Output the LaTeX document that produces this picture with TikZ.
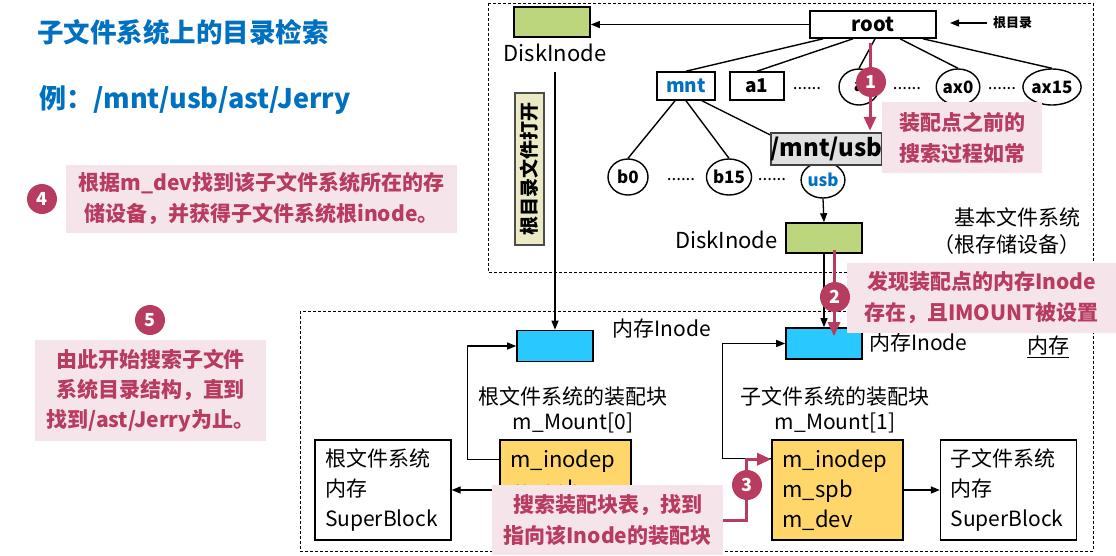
\documentclass[tikz,border=0pt]{standalone}
\usepackage{fontspec}
\setmainfont{Noto Sans CJK SC}
\usetikzlibrary{arrows.meta, positioning, shapes.geometric}
\definecolor{titleblue}{RGB}{0,112,192}
\definecolor{notered}{RGB}{184,59,96}
\definecolor{notepink}{RGB}{246,228,235}
\definecolor{diskgreen}{RGB}{187,214,124}
\definecolor{memblue}{RGB}{41,200,255}
\definecolor{mountyellow}{RGB}{255,214,106}
\definecolor{labelkhaki}{RGB}{236,234,196}
\newcommand{\setfs}[2]{\fontsize{#1}{#2}\selectfont}

\begin{document}
\begin{tikzpicture}[
  x=1pt, y=-1pt,
  every node/.style={align=center, inner sep=0pt},
  >={Triangle[length=9pt, width=7pt]},
  box/.style={draw, line width=1.6pt},
  diskbox/.style={box, fill=diskgreen, minimum width=76, minimum height=30},
  membox/.style={box, fill=memblue, minimum width=76, minimum height=31},
  dirbox/.style={box, font=\setfs{19}{22}\bfseries, minimum height=28},
  dirnode/.style={ellipse, draw, line width=1.4pt, minimum width=40, minimum height=36, font=\setfs{17}{20}\bfseries},
  dots/.style={font=\setfs{17}{20}},
  mountbox/.style={box, fill=mountyellow, minimum width=131, minimum height=100, text width=110, align=left, font=\setfs{22}{30}},
  sbbox/.style={box, line width=1.3pt, minimum width=136, minimum height=100, text width=116, align=left, font=\setfs{21}{30}},
  textlbl/.style={font=\setfs{21}{26}},
  note/.style={fill=notepink, text=notered, font=\setfs{21}{31}\bfseries},
  badge/.style={circle, fill=notered, text=white, minimum size=30, font=\setfs{18}{18}\bfseries},
  tree/.style={line width=1.4pt},
  link/.style={->, line width=1.3pt},
  pinkarrow/.style={-{Triangle[length=14pt, width=12pt]}, draw=notered, line width=3pt},
  region/.style={dashed, dash pattern=on 3pt off 2pt, line width=1pt}
]
\useasboundingbox (0,0) rectangle (1116,555);
% Frames
\draw[region] (488,3) rectangle (1093,272);
\draw[region] (300,311) rectangle (1093,551);

% Title
\node[anchor=west, text=titleblue, font=\setfs{26.5}{30}\bfseries] (title) at (37,32) {子文件系统上的目录检索};
\node[anchor=west, text=titleblue, font=\setfs{27}{30}\bfseries] (example) at (39,100) {例：/mnt/usb/ast/Jerry};

% Directory tree
\node[box, minimum width=126, minimum height=27, font=\setfs{20}{22}\bfseries] (rootdir) at (873,24.5) {root};
\node[font=\setfs{13}{15}\bfseries, anchor=west] (rootlabel) at (993,23) {根目录};
\node[diskbox] (diskroot) at (552,22) {};
\node[textlbl, font=\setfs{22}{26}] (diskrootlabel) at (555,53) {DiskInode};
\node[dirbox, minimum width=58, text=titleblue] (mnt) at (686,86) {mnt};
\node[dirbox, minimum width=54] (aone) at (757,86) {a1};
\node[dots] (dotsa) at (807,89) {......};
\node[dirnode] (anode) at (859,87) {a};
\node[dots] (dotsb) at (907,89) {......};
\node[dirnode] (axzero) at (958,87) {ax0};
\node[dots] (dotsc) at (1002,89) {......};
\node[dirnode] (axfifteen) at (1052,87) {ax15};
\node[dirnode] (bzero) at (628,177) {b0};
\node[dots] (dotsd) at (681,180) {......};
\node[dirnode] (bfifteen) at (729,177) {b15};
\node[dots] (dotse) at (772,180) {......};
\node[dirnode, text=titleblue] (usb) at (823,180) {usb};

\draw[tree] ([xshift=-50pt]rootdir.south) -- (mnt.north);
\draw[tree] ([xshift=-20pt]rootdir.south) -- (aone.north);
\draw[tree] ([xshift=2pt]rootdir.south) -- (anode.north);
\draw[tree] ([xshift=27pt]rootdir.south) -- (axzero.north);
\draw[tree] ([xshift=50pt]rootdir.south) -- (axfifteen.north);
\draw[tree] ([xshift=-11pt]mnt.south) -- (bzero.north);
\draw[tree] (mnt.south) -- (bfifteen.north);
\draw[tree] ([xshift=16pt]mnt.south) -- (usb.north);

\node[box, fill=black!12, draw=black!75, minimum width=109, minimum height=32, font=\setfs{24}{26}\bfseries] (mntusb) at (826.5,149) {/mnt/usb};
\node[diskbox] (diskusb) at (824,238) {};
\node[textlbl, font=\setfs{22}{26}, anchor=east] (diskusblabel) at (778,240) {DiskInode};
\node[textlbl, anchor=east, align=right, font=\setfs{21}{27}] (basefs) at (1081,231) {基本文件系统\\（根存储设备）};
\node[box, fill=labelkhaki, draw=black!70, line width=1.2pt, minimum width=152, minimum height=29, rotate=90, font=\setfs{19}{20}\bfseries] (openlabel) at (529.5,169) {根目录文件打开};

% Memory
\node[membox] (meminoderoot) at (555,346) {};
\node[textlbl] (meminoderootlabel) at (662,329) {内存Inode};
\node[membox] (meminodeusb) at (824,343.5) {};
\node[textlbl, anchor=west] (meminodeusblabel) at (869,343) {内存Inode};
\node[textlbl] (memlabel) at (1048,347) {\underline{内存}};
\node[textlbl, font=\setfs{21}{25}] (mountzerolabel) at (573,410) {根文件系统的装配块\\m\_Mount[0]};
\node[textlbl, font=\setfs{21}{25}] (mountonelabel) at (835,410) {子文件系统的装配块\\m\_Mount[1]};
\node[mountbox] (mountzero) at (565.5,490) {m\_inodep\\m\_spb\\m\_dev};
\node[mountbox] (mountone) at (837.5,490) {m\_inodep\\m\_spb\\m\_dev};
\node[sbbox] (rootsb) at (383,490) {根文件系统\\内存\\SuperBlock};
\node[sbbox] (childsb) at (1008.5,490) {子文件系统\\内存\\SuperBlock};

% Arrows
\draw[link] (rootdir.west) -- (rootdir.west -| diskroot.east);
\draw[link] ([xshift=-6pt]rootlabel.west) -- ++(-37,0);
\draw[link] (usb.south) -- (diskusb.north);
\draw[link] ([yshift=-10pt]diskrootlabel.south) -- (meminoderoot.north);
\draw[link] (diskusb.south) -- (meminodeusb.north);
\draw[link] ([yshift=-20pt]mountzero.north west) -- ++(-32,0) |- (meminoderoot.west);
\draw[link] ([yshift=-19pt]mountone.north west) -- ++(-49,0) |- (meminodeusb.west);
\draw[link] (mountzero.west) -- (rootsb.east);
\draw[link] (mountone.east) -- (childsb.west);

% Notes
\node[note, minimum width=160, minimum height=71] (beforenote) at (962,137.5) {装配点之前的\\搜索过程如常};
\node[note, minimum width=269, minimum height=70] (foundnote) at (981.5,298) {发现装配点的内存Inode\\存在，且IMOUNT被设置};
\node[note, minimum width=231, minimum height=70] (searchnote) at (607.5,520) {搜索装配块表，找到\\指向该Inode的装配块};
\node[note, minimum width=391, minimum height=68] (devnote) at (261.5,199) {根据m\_dev找到该子文件系统所在的存\\储设备，并获得子文件系统根inode。};
\node[note, font=\setfs{21}{30}\bfseries, minimum width=231, minimum height=101] (walknote) at (150.5,390.5) {由此开始搜索子文件\\系统目录结构，直到\\找到/ast/Jerry为止。};

% Steps
\draw[pinkarrow] ([xshift=-3pt,yshift=-4pt]rootdir.south) -- ++(0,88);
\node[badge] (numone) at (871,82) {1};
\draw[pinkarrow] ([xshift=10pt,yshift=4pt]diskusb.south) -- ([xshift=10pt,yshift=-9pt]meminodeusb.north);
\node[badge] (numtwo) at (835,297) {2};
\draw[pinkarrow] (searchnote.east) -| ([xshift=-25pt,yshift=-20pt]mountone.north west) -- ([yshift=-20pt]mountone.north west);
\node[badge] (numthree) at (747,485) {3};
\node[badge] (numfour) at (42,199) {4};
\node[badge] (numfive) at (150,320) {5};
\end{tikzpicture}
\end{document}
